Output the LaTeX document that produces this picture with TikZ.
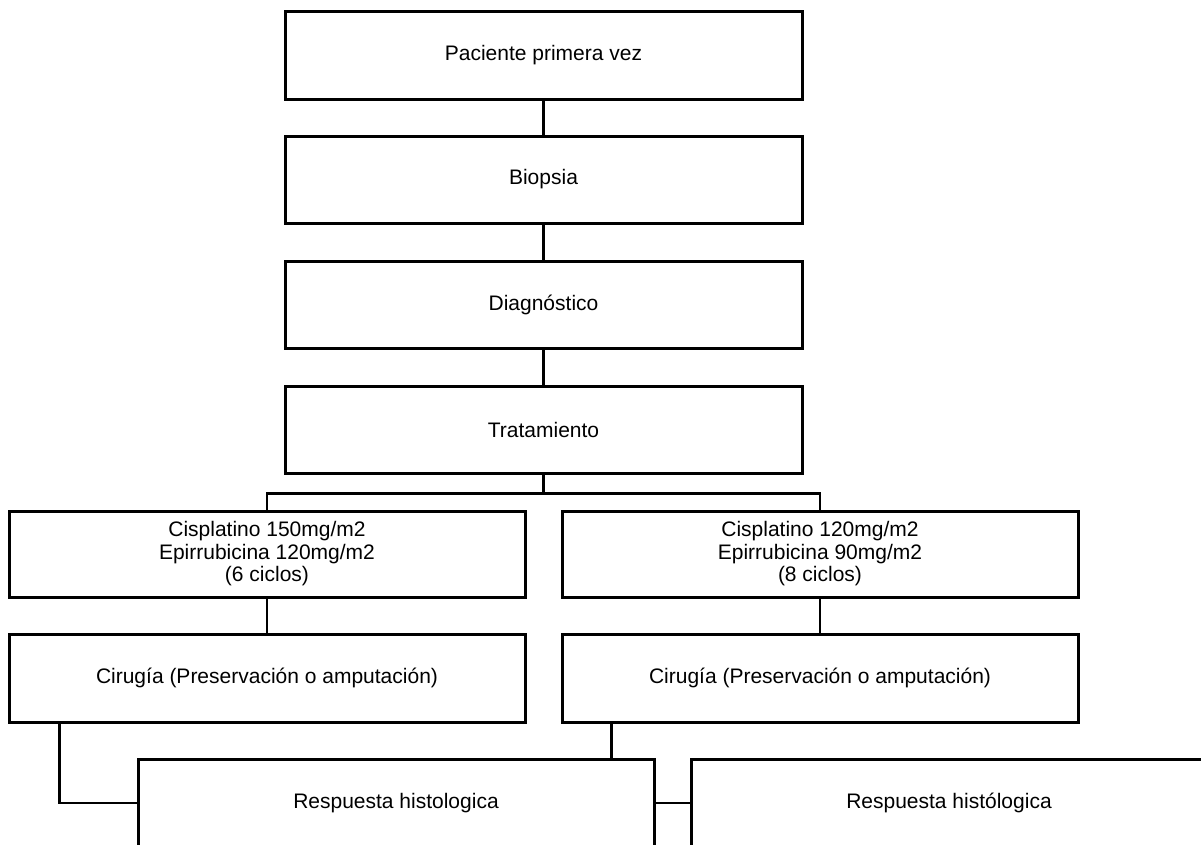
\documentclass[tikz,border=0pt]{standalone}
\usepackage{fontspec}
\setmainfont{Liberation Sans}
\usetikzlibrary{backgrounds,calc}
\tikzset{
  box/.style={draw=black, line width=3pt, fill=white, rectangle, inner sep=0pt,
    minimum width=516pt, minimum height=87pt, align=center,
    font=\fontsize{21}{22.5}\selectfont},
  conn/.style={draw=black, line width=2.4pt}
}
\begin{document}
\begin{tikzpicture}[x=1pt, y=-1pt]
\useasboundingbox (0,0) rectangle (1201,844);
\node[box, minimum width=517pt, minimum height=88pt] (p1) at (543.5,55) {Paciente primera vez};
\node[box, minimum width=517pt] (p2) at (543.5,179.5) {Biopsia};
\node[box, minimum width=517pt] (p3) at (543.5,304.5) {Diagnóstico};
\node[box, minimum width=517pt] (p4) at (543.5,429.5) {Tratamiento};
\node[box, minimum height=86pt] (l1) at (267,554) {Cisplatino 150mg/m2\\Epirrubicina 120mg/m2\\(6 ciclos)};
\node[box, minimum height=86pt] (r1) at (820,554) {Cisplatino 120mg/m2\\Epirrubicina 90mg/m2\\(8 ciclos)};
\node[box, minimum height=88pt] (l2) at (267,678) {Cirugía (Preservación o amputación)};
\node[box, minimum height=88pt] (r2) at (820,678) {Cirugía (Preservación o amputación)};
\node[box, minimum height=88pt] (lr) at (396,803) {Respuesta histologica};
\node[box, minimum height=88pt] (rr) at (949,803) {Respuesta histólogica};
\begin{scope}[on background layer]
\coordinate (j) at ($(p4.south)+(0,19)$);
\draw[conn] (p1.south) -- (p2.north);
\draw[conn] (p2.south) -- (p3.north);
\draw[conn] (p3.south) -- (p4.north);
\draw[conn] (p4.south) -- (j);
\draw[conn] (j) -| (l1.north);
\draw[conn] (j) -| (r1.north);
\draw[conn] (l1.south) -- (l2.north);
\draw[conn] (r1.south) -- (r2.north);
\coordinate (la) at ($(l2.south west)+(52,0)$);
\coordinate (ra) at ($(r2.south west)+(51,0)$);
\draw[conn] (la) |- (lr.west);
\draw[conn] (ra) |- (rr.west);
\end{scope}
\end{tikzpicture}
\end{document}
